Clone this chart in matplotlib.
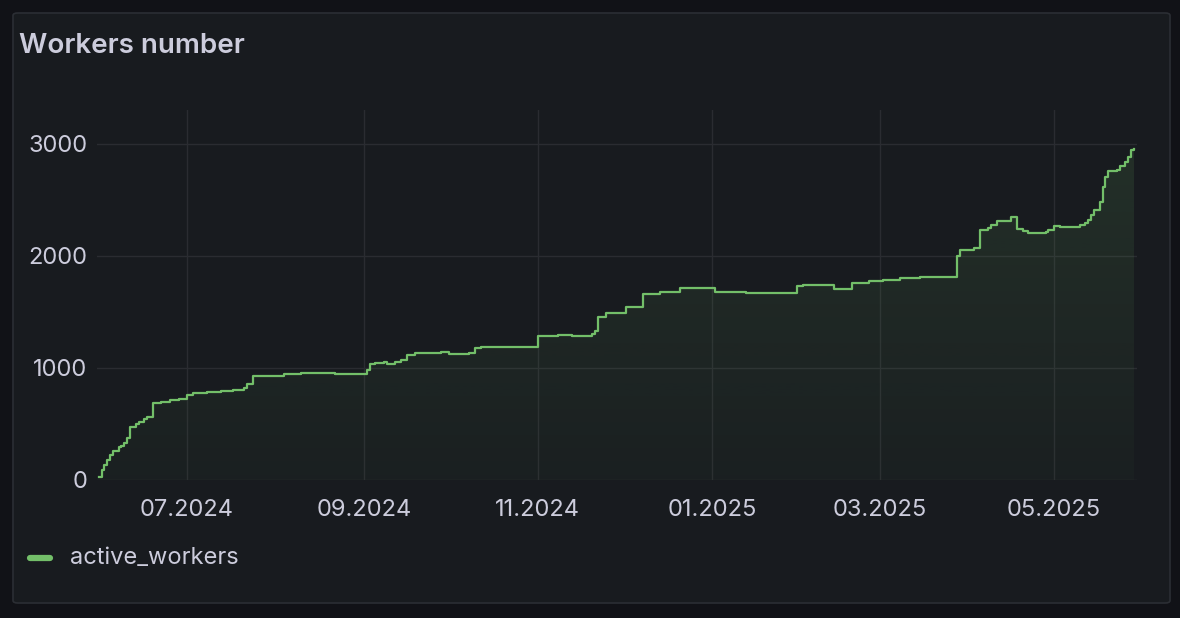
import matplotlib
matplotlib.use("Agg")
import matplotlib.pyplot as plt
import matplotlib.dates as mdates
from matplotlib.patches import FancyBboxPatch
from matplotlib.lines import Line2D
import numpy as np
import pandas as pd

# step points of active_workers (date of change, new value)
dates = [
    "2024-05-31", "2024-06-01", "2024-06-02", "2024-06-03", "2024-06-04",
    "2024-06-05", "2024-06-07", "2024-06-08", "2024-06-09", "2024-06-10",
    "2024-06-11", "2024-06-13", "2024-06-14", "2024-06-16", "2024-06-17",
    "2024-06-19", "2024-06-22", "2024-06-25", "2024-06-28", "2024-07-01",
    "2024-07-03", "2024-07-08", "2024-07-13", "2024-07-17", "2024-07-21",
    "2024-07-22", "2024-07-24", "2024-08-04", "2024-08-10", "2024-08-22",
    "2024-09-02", "2024-09-03", "2024-09-05", "2024-09-08", "2024-09-09",
    "2024-09-12", "2024-09-14", "2024-09-16", "2024-09-19", "2024-09-28",
    "2024-10-01", "2024-10-08", "2024-10-10", "2024-10-12", "2024-11-01",
    "2024-11-08", "2024-11-13", "2024-11-20", "2024-11-21", "2024-11-22",
    "2024-11-25", "2024-12-02", "2024-12-08", "2024-12-14", "2024-12-21",
    "2025-01-02", "2025-01-13", "2025-01-31", "2025-02-02", "2025-02-13",
    "2025-02-19", "2025-02-25", "2025-03-02", "2025-03-08", "2025-03-15",
    "2025-03-28", "2025-03-29", "2025-04-03", "2025-04-05", "2025-04-08",
    "2025-04-09", "2025-04-11", "2025-04-16", "2025-04-18", "2025-04-20",
    "2025-04-22", "2025-04-28", "2025-04-29", "2025-05-01", "2025-05-03",
    "2025-05-10", "2025-05-12", "2025-05-13", "2025-05-14", "2025-05-15",
    "2025-05-17", "2025-05-18", "2025-05-19", "2025-05-20", "2025-05-23",
    "2025-05-24", "2025-05-26", "2025-05-27", "2025-05-28", "2025-05-29",
]
active_workers = [
    30, 90, 135, 180, 225,
    260, 295, 305, 330, 375,
    470, 500, 518, 545, 563,
    690, 700, 710, 718, 760,
    777, 785, 795, 805, 821,
    857, 929, 946, 955, 946,
    982, 1036, 1045, 1054, 1036,
    1054, 1071, 1116, 1134, 1143,
    1125, 1134, 1179, 1188, 1286,
    1295, 1286, 1304, 1330, 1455,
    1491, 1545, 1661, 1679, 1714,
    1679, 1670, 1732, 1741, 1705,
    1759, 1777, 1786, 1804, 1813,
    2000, 2054, 2071, 2232, 2250,
    2277, 2313, 2348, 2241, 2223,
    2205, 2214, 2230, 2268, 2259,
    2277, 2295, 2321, 2366, 2411,
    2482, 2616, 2705, 2759, 2768,
    2804, 2839, 2884, 2946, 2950,
]
y_ticks = [0, 1000, 2000, 3000]

BG = "#111217"
PANEL = "#181b1f"
TEXT = "#ccccdc"
GREEN = "#73bf69"
GRID = "#2a2c31"

plt.rcParams["font.family"] = ["Inter", "DejaVu Sans"]

fig = plt.figure(figsize=(11.8, 6.18), dpi=100, facecolor=BG)
W, H = 1180, 618

panel = FancyBboxPatch((13 / W, 1 - 603 / H), (1170 - 13) / W, (603 - 13) / H,
                       boxstyle="round,pad=0,rounding_size=0.004",
                       transform=fig.transFigure, facecolor=PANEL,
                       edgecolor="#2b2e34", linewidth=1.2, zorder=-10)
fig.patches.append(panel)

fig.text(19 / W, 1 - 46 / H, "Workers number", color=TEXT, fontsize=20,
         fontweight="semibold", va="center", ha="left")

ax = fig.add_axes([97 / W, 1 - 480 / H, 1040 / W, 370 / H])
ax.set_facecolor("none")

x = pd.to_datetime(dates)
xn = mdates.date2num(x)
ymax = 3300

ax.plot(x, active_workers, drawstyle="steps-post", color=GREEN, lw=1.6, zorder=3)

# gradient fill under the line, clipped to the step area
fill = ax.fill_between(x, active_workers, step="post", color="none", lw=0)
grad = np.zeros((256, 1, 4))
grad[..., 0], grad[..., 1], grad[..., 2] = 0x73 / 255, 0xbf / 255, 0x69 / 255
grad[:, 0, 3] = np.linspace(0.03, 0.14, 256)
im = ax.imshow(grad, extent=[xn[0], xn[-1], 0, ymax], aspect="auto",
               origin="lower", zorder=2)
im.set_clip_path(fill.get_paths()[0], transform=ax.transData)

ax.set_xlim(pd.Timestamp("2024-05-30 10:00"), pd.Timestamp("2025-05-30 02:00"))
ax.set_ylim(0, ymax)
ax.set_yticks(y_ticks)
ax.xaxis.set_major_locator(mdates.MonthLocator(bymonth=[1, 3, 5, 7, 9, 11]))
ax.xaxis.set_major_formatter(mdates.DateFormatter("%m.%Y"))

ax.grid(True, color=GRID, lw=1)
ax.set_axisbelow(True)
for s in ax.spines.values():
    s.set_visible(False)
ax.tick_params(length=0, colors=TEXT, labelsize=17)
ax.tick_params(axis="y", pad=7)
ax.tick_params(axis="x", pad=14)

# legend
fig.add_artist(Line2D([30 / W, 50 / W], [1 - 558 / H] * 2, color=GREEN, lw=4.5,
                      solid_capstyle="round", transform=fig.transFigure))
fig.text(70 / W, 1 - 558 / H, "active_workers", color=TEXT, fontsize=17,
         va="center", ha="left")

fig.savefig("out.png", dpi=100, facecolor=BG)
